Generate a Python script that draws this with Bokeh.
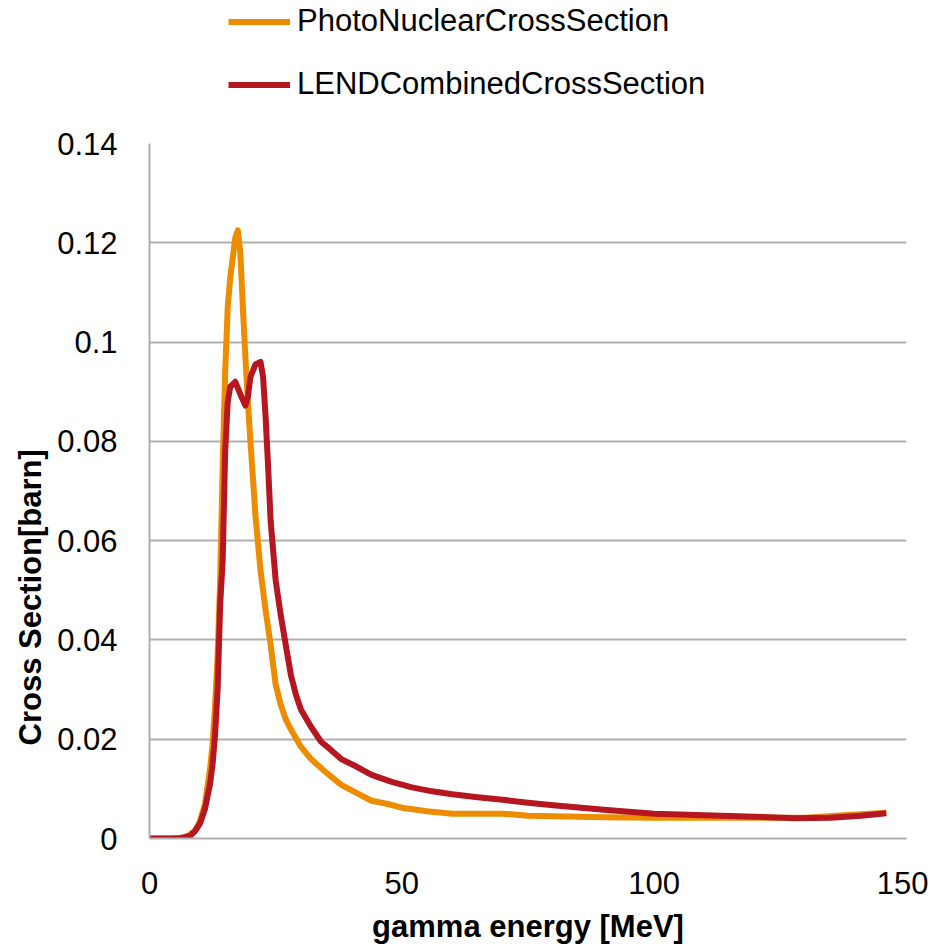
from bokeh.plotting import figure
from bokeh.layouts import column
from bokeh.models import (FixedTicker, CustomJSTickFormatter, Legend, LegendItem,
                          Title, Range1d)
from bokeh.embed import file_html
from bokeh.resources import INLINE

# ---- data ----
photo_x = [0, 4, 7, 8, 9, 10, 11, 12, 12.5, 13, 13.5, 14, 14.5, 15, 15.5, 16, 16.5,
           17, 17.5, 18, 18.5, 19, 19.5, 20, 21, 22, 23, 24, 25, 26, 27, 28, 30, 32,
           35, 38, 41, 44, 47, 50, 55, 60, 65, 70, 75, 80, 90, 100, 110, 120, 130,
           136, 141, 146]
photo_y = [0, 0, 0.0002, 0.0008, 0.0015, 0.0035, 0.007, 0.014, 0.019, 0.027, 0.037,
           0.052, 0.075, 0.094, 0.107, 0.113, 0.117, 0.121, 0.1225, 0.118, 0.107,
           0.097, 0.088, 0.080, 0.065, 0.054, 0.046, 0.039, 0.031, 0.027, 0.024,
           0.022, 0.0185, 0.016, 0.0133, 0.0108, 0.0092, 0.0076, 0.0070, 0.0062,
           0.0055, 0.0050, 0.0050, 0.0050, 0.0046, 0.0045, 0.0043, 0.0042, 0.0042,
           0.0042, 0.0042, 0.0046, 0.0049, 0.0052]

lend_x = [0, 4, 6, 7, 8, 9, 10, 11, 12, 12.5, 13, 13.5, 14, 14.5, 15, 15.5, 16, 17,
          18, 19, 19.5, 20, 21, 22, 22.5, 23, 23.5, 24, 24.5, 25, 26, 27, 28, 29, 30,
          32, 34, 36, 38, 41, 44, 48, 52, 56, 60, 65, 70, 75, 80, 90, 100, 110, 120,
          128, 135, 141, 146]
lend_y = [0, 0, 0, 0.0003, 0.0005, 0.0015, 0.003, 0.006, 0.011, 0.015, 0.021, 0.030,
          0.047, 0.056, 0.078, 0.088, 0.091, 0.092, 0.0895, 0.0872, 0.089, 0.093,
          0.0955, 0.096, 0.093, 0.085, 0.075, 0.064, 0.058, 0.052, 0.045, 0.039,
          0.033, 0.029, 0.026, 0.0225, 0.0195, 0.0178, 0.0160, 0.0145, 0.0128,
          0.0114, 0.0103, 0.0095, 0.0089, 0.0083, 0.0078, 0.0072, 0.0067, 0.0058,
          0.0050, 0.0047, 0.0044, 0.0041, 0.0042, 0.0046, 0.0051]

x_ticks = [0, 50, 100, 150]
y_ticks = [0, 0.02, 0.04, 0.06, 0.08, 0.1, 0.12, 0.14]
series_names = ["PhotoNuclearCrossSection", "LENDCombinedCrossSection"]
x_title = "gamma energy [MeV]"
y_title = "Cross Section[barn]"

ORANGE = "#EE8C00"
RED = "#B5161F"
GRID = "#B0B0B0"
FONT = "Liberation Sans"
LW = 6

# ---- legend strip (its own small figure so nothing is clipped) ----
# the same series are drawn here, but out of view, only to feed the legend
leg = figure(width=928, height=110, output_backend="svg", toolbar_location=None,
             min_border_left=0, min_border_right=0, min_border_top=0,
             min_border_bottom=0, x_range=Range1d(1000, 1001),
             y_range=Range1d(1000, 1001))
leg.axis.visible = False
leg.grid.visible = False
leg.outline_line_color = None
l1 = leg.line(photo_x, photo_y, line_color=ORANGE, line_width=LW)
l2 = leg.line(lend_x, lend_y, line_color=RED, line_width=LW)
legend = Legend(items=[LegendItem(label=series_names[0], renderers=[l1]),
                       LegendItem(label=series_names[1], renderers=[l2])],
                location=(79, 8), orientation="vertical",
                glyph_width=62, glyph_height=31, label_height=31, spacing=27,
                label_standoff=7, padding=0, margin=0,
                border_line_color=None, background_fill_alpha=0,
                label_text_font=FONT, label_text_font_size="31px",
                label_text_color="black")
leg.add_layout(legend, "center")

# ---- main chart ----
p = figure(frame_width=757, frame_height=695, output_backend="svg",
           toolbar_location=None, x_range=Range1d(0, 150), y_range=Range1d(0, 0.14),
           min_border_left=149, min_border_right=22, min_border_top=33,
           min_border_bottom=100)
p.outline_line_color = None
p.background_fill_color = "white"

p.line(photo_x, photo_y, line_color=ORANGE, line_width=LW, line_join="round")
p.line(lend_x, lend_y, line_color=RED, line_width=LW, line_join="round")

p.xgrid.grid_line_color = None
p.ygrid.grid_line_color = GRID
p.ygrid.grid_line_width = 2
p.ygrid.ticker = FixedTicker(ticks=y_ticks)

p.xaxis.ticker = FixedTicker(ticks=x_ticks)
p.yaxis.ticker = FixedTicker(ticks=y_ticks)
p.yaxis.formatter = CustomJSTickFormatter(
    code="var s = tick.toFixed(2); s = s.replace(/0+$/, ''); s = s.replace(/\\.$/, ''); return s;")

for ax in (p.xaxis, p.yaxis):
    ax.axis_line_color = GRID
    ax.axis_line_width = 2
    ax.major_tick_line_color = None
    ax.minor_tick_line_color = None
    ax.major_label_text_font = FONT
    ax.major_label_text_font_size = "31px"
    ax.major_label_text_color = "black"

p.yaxis.major_label_standoff = 26
p.xaxis.major_label_standoff = 27

p.xaxis.axis_label = x_title
p.xaxis.axis_label_text_font = FONT
p.xaxis.axis_label_text_font_size = "31px"
p.xaxis.axis_label_text_font_style = "bold"
p.xaxis.axis_label_text_color = "black"
p.xaxis.axis_label_standoff = 12

ytitle = Title(text=y_title, align="left", offset=93, standoff=13,
               text_font=FONT, text_font_size="31px", text_font_style="bold",
               text_color="black")
p.add_layout(ytitle, "left")

layout = column(leg, p, spacing=0)
open("out.html", "w").write(file_html(layout, INLINE))
